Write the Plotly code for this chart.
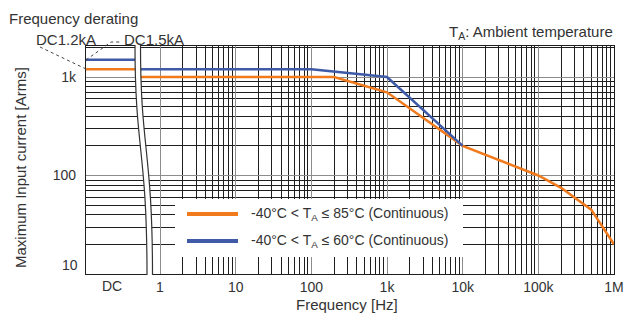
import plotly.graph_objects as go
import math

# ---------------- data ----------------
orange_freq = [0.55, 200, 1000, 10000, 100000, 200000, 500000, 1000000]
orange_curr = [1000, 1000, 700, 200, 100, 75, 45, 20]
blue_freq = [0.55, 100, 1000, 10000]
blue_curr = [1200, 1200, 1000, 200]
dc_span = [0.105, 0.55]          # pseudo-frequency span used for the DC section
dc_orange = 1200
dc_blue = 1500
x_tick_vals = [1, 10, 100, 1e3, 1e4, 1e5, 1e6]
x_tick_text = ["1", "10", "100", "1k", "10k", "100k", "1M"]
y_tick_vals = [10, 100, 1000]
y_tick_text = ["10", "100", "1k"]
legend_labels = ["-40°C < T<sub>A</sub> ≤ 85°C (Continuous)",
                 "-40°C < T<sub>A</sub> ≤ 60°C (Continuous)"]
dc_labels = ["DC1.2kA", "DC1.5kA"]

ORANGE = "#f07a1c"
BLUE = "#3f5ba8"
TXT = "#333333"
FONT = "Liberation Sans, Arial, sans-serif"

W, H = 628, 313
L, R, T, B = 86, 614, 46, 274


def px(x):
    return (x - L) / (R - L)


def py(y):
    return (B - y) / (B - T)


x_minor = [m * 10 ** k for k in range(0, 6) for m in range(2, 10)]
y_minor = [m * 10 ** k for k in range(1, 4) for m in range(2, 10) if m * 10 ** k < 2100]

fig = go.Figure()

# DC section lines
fig.add_trace(go.Scatter(x=dc_span, y=[dc_orange, dc_orange], mode="lines",
                         line=dict(color=ORANGE, width=2.5), showlegend=False))
fig.add_trace(go.Scatter(x=dc_span, y=[dc_blue, dc_blue], mode="lines",
                         line=dict(color=BLUE, width=2.5), showlegend=False))
# AC curves
fig.add_trace(go.Scatter(x=orange_freq, y=orange_curr, mode="lines",
                         line=dict(color=ORANGE, width=2.5), showlegend=False))
fig.add_trace(go.Scatter(x=blue_freq, y=blue_curr, mode="lines",
                         line=dict(color=BLUE, width=2.5), showlegend=False))
# DC value dots on the axis
fig.add_trace(go.Scatter(x=[dc_span[0], dc_span[0]], y=[dc_orange, dc_blue], mode="markers",
                         marker=dict(color="#1a1a1a", size=6), cliponaxis=False,
                         showlegend=False))

shapes = []
# axis break (white gap between two S-curves)
lc = [(135, 45), (135, 150), (147, 150), (147, 275)]
rc = [(x + 5.5, y) for x, y in lc]


def pt(p):
    return f"{px(p[0]):.5f},{py(p[1]):.5f}"


fill_path = (f"M {pt(lc[0])} C {pt(lc[1])} {pt(lc[2])} {pt(lc[3])} "
             f"L {pt(rc[3])} C {pt(rc[2])} {pt(rc[1])} {pt(rc[0])} Z")
shapes.append(dict(type="path", xref="paper", yref="paper", path=fill_path,
                   fillcolor="white", line=dict(width=0), layer="above"))
for c in (lc, rc):
    shapes.append(dict(type="path", xref="paper", yref="paper",
                       path=f"M {pt(c[0])} C {pt(c[1])} {pt(c[2])} {pt(c[3])}",
                       line=dict(color="#333", width=1.2), layer="above"))

# legend box
shapes.append(dict(type="rect", xref="paper", yref="paper",
                   x0=px(175), x1=px(463), y0=py(257), y1=py(199),
                   fillcolor="white", line=dict(width=0), layer="above"))
for yy, col in ((214, ORANGE), (241, BLUE)):
    shapes.append(dict(type="line", xref="paper", yref="paper",
                       x0=px(187), x1=px(238), y0=py(yy), y1=py(yy),
                       line=dict(color=col, width=4), layer="above"))

# leader lines for DC labels
shapes.append(dict(type="line", xref="paper", yref="paper",
                   x0=px(86), y0=py(69), x1=px(40), y1=py(47),
                   line=dict(color="#444", width=1, dash="dot"), layer="above"))
shapes.append(dict(type="path", xref="paper", yref="paper",
                   path=f"M {pt((86, 60))} L {pt((111, 42))} L {pt((121, 42))}",
                   line=dict(color="#444", width=1, dash="dot"), layer="above"))

ann = []
ann.append(dict(text="Frequency derating", x=px(7), y=py(18), xanchor="left", yanchor="middle",
                font=dict(size=15, color=TXT)))
ann.append(dict(text="T<sub>A</sub>: Ambient temperature", x=px(615), y=py(33),
                xanchor="right", yanchor="middle", font=dict(size=15, color=TXT)))
ann.append(dict(text=dc_labels[0], x=px(66), y=py(40), xanchor="center", yanchor="middle",
                font=dict(size=15, color=TXT)))
ann.append(dict(text=dc_labels[1], x=px(122), y=py(40), xanchor="left", yanchor="middle",
                font=dict(size=15, color=TXT)))
for i, lab in enumerate(legend_labels):
    ann.append(dict(text=lab, x=px(249), y=py(214 + 27 * i), xanchor="left", yanchor="middle",
                    font=dict(size=14, color=TXT)))
ann.append(dict(text="DC", x=px(112), y=py(286), xanchor="center", yanchor="middle",
                font=dict(size=14, color=TXT)))
ann.append(dict(text=y_tick_text[0], x=px(80), y=py(265), xanchor="right", yanchor="middle",
                font=dict(size=14, color=TXT)))
ann.append(dict(text="Frequency [Hz]", x=px(347), y=py(304), xanchor="center", yanchor="middle",
                font=dict(size=15, color=TXT)))
ann.append(dict(text="Maximum Input current [Arms]", x=px(20), y=py(168), textangle=-90,
                xanchor="center", yanchor="middle", font=dict(size=15, color=TXT)))
for a in ann:
    a.update(xref="paper", yref="paper", showarrow=False)

fig.update_layout(
    width=W, height=H,
    margin=dict(l=L, r=W - R, t=T, b=H - B, pad=0, autoexpand=False),
    paper_bgcolor="white", plot_bgcolor="white",
    font=dict(family=FONT, color=TXT, size=14),
    shapes=shapes, annotations=ann, showlegend=False,
)
fig.update_xaxes(
    type="log", range=[-0.978, 6.0], automargin=False,
    tickmode="array", tickvals=x_tick_vals, ticktext=x_tick_text,
    ticks="", showgrid=True, gridcolor="#8c8c8c", gridwidth=1.2,
    minor=dict(tickmode="array", tickvals=x_minor, showgrid=True,
               gridcolor="#1e1e1e", gridwidth=1, ticks=""),
    showline=True, mirror=True, linecolor="#1e1e1e", linewidth=1.3,
    zeroline=False, tickfont=dict(size=14, color=TXT), ticklabelstandoff=0,
)
fig.update_yaxes(
    type="log", range=[1.0, 3.315], automargin=False,
    tickmode="array", tickvals=y_tick_vals, ticktext=[""] + y_tick_text[1:],
    ticks="", showgrid=True, gridcolor="#8c8c8c", gridwidth=1.2,
    minor=dict(tickmode="array", tickvals=y_minor, showgrid=True,
               gridcolor="#1e1e1e", gridwidth=1, ticks=""),
    showline=True, mirror=True, linecolor="#1e1e1e", linewidth=1.3,
    zeroline=False, tickfont=dict(size=14, color=TXT), ticklabelstandoff=6,
)

fig.write_html("out.html", config={"displayModeBar": False},
               post_script="document.body.style.margin='0';document.body.style.overflow='hidden';")
